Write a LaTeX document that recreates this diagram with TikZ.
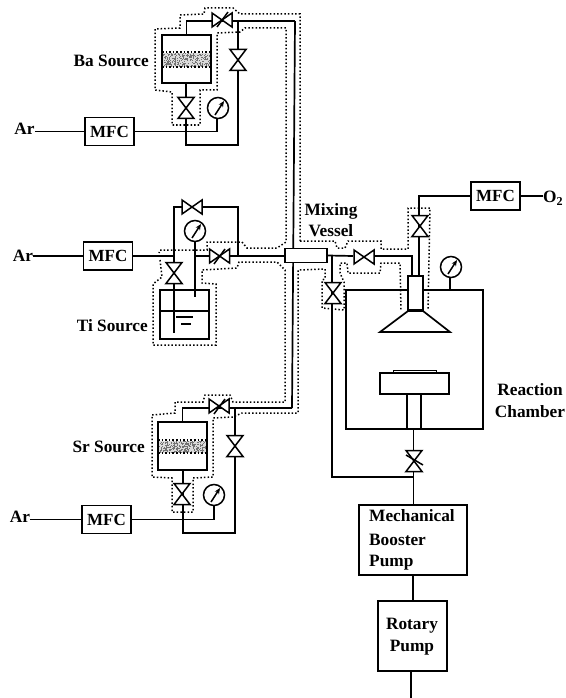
\documentclass[tikz,border=0pt]{standalone}
\usepackage{fontspec}
\setmainfont{Liberation Serif}
\usetikzlibrary{arrows.meta}
\tikzset{
  pipe/.style={line width=1.7pt,black,line join=miter},
  thin pipe/.style={line width=1.4pt,black},
  boxed/.style={draw=black,line width=1.7pt,inner sep=0pt,fill=white},
  mfcbox/.style={boxed,minimum width=49pt,minimum height=28pt,font=\fontsize{17}{19}\selectfont\bfseries},
  lbl/.style={font=\fontsize{17.3}{19}\selectfont\bfseries,inner sep=0pt},
  dots/.style={line width=1.5pt,dash pattern=on 1.5pt off 2.1pt,black},
  tap/.pic={\draw[line width=1.5pt,fill=white] (-10,-7)--(10,7)--(10,-7)--(-10,7)--cycle;},
  tapv/.pic={\draw[line width=1.5pt,fill=white] (-8,-10.5)--(8,10.5)--(-8,10.5)--(8,-10.5)--cycle;},
  gauge/.pic={\draw[line width=1.5pt,fill=white] (0,0) circle (10.5);
    \draw[line width=1.5pt,-{Stealth[length=6pt,width=5pt]}] (-3,7)--(6,-7);},
}
\newcommand{\speckle}[4]{\fill[black!14] (#1,#2) rectangle (#3,#4);
  \foreach \i in {1,...,300}{\pgfmathsetmacro\xa{#1+rnd*(#3-#1-1)}\pgfmathsetmacro\ya{#2+rnd*(#4-#2-1)}
    \fill[black!55] (\xa,\ya) rectangle (\xa+1,\ya+1);}}
\begin{document}
\begin{tikzpicture}[x=1pt,y=-1pt]
\useasboundingbox (0,0) rectangle (565,698);
\pgfmathsetseed{7}
% ---- Ba source
\speckle{162}{53}{211}{67}
\node[boxed,fill=none,minimum width=49pt,minimum height=48pt] (ba) at (186.5,59) {};
\draw[dots] (162,52)--(211,52) (162,67)--(211,67);
\draw[pipe] (ba.north) |- (295,21);
\draw[pipe] (186,83)|-(238,145)--(238,21);
\node[mfcbox] (mfcba) at (109.5,131.5) {MFC};
\node[lbl,anchor=base] (arba) at (24.5,135) {Ar};
\draw[thin pipe] (arba.east |- mfcba.west)--(mfcba.west);
\pic (gba) at (218,108) {gauge};
\draw[thin pipe] (mfcba.east)-|(217,118);
\pic at (186,108) {tapv};
\pic at (238,60) {tapv};
\pic at (222,20) {tap};
\draw[line width=1.5pt] (217,27)--(228,12);
\node[lbl,anchor=base east] at (149,66.5) {Ba Source};
\draw[dots] (300,241)--(300,14)--(240,14)--(233,8)--(205,8)--(204,14)--(180,15)--(180,28)--(155,29)--(155,90)--(172,92)--(172,125)--(200,125)--(200,90)--(217,90)--(217,33)--(240,32)--(245,28)--(286,28)--(286,242)--(277,248)--(247,248)--(242,242)--(207,242)--(207,250)--(160,250)--(159,253);
% ---- Ti source
\node[boxed,fill=none,minimum width=49pt,minimum height=49pt] (ti) at (184.5,314.5) {};
\draw[pipe] (ti.west |- 0,311)--(ti.east |- 0,311);
\draw[pipe] (182,207)-|(174,333);
\draw[pipe] (203,207)-|(238,256);
\draw[pipe] (195,240)--(195,297);
\draw[pipe] (195,256)--(285,256);
\draw[pipe] (176,317)--(193,317) (181,324)--(191,324);
\node[mfcbox] (mfcti) at (108,256) {MFC};
\node[lbl,anchor=base] (arti) at (23,261.5) {Ar};
\draw[thin pipe] (arti.east |- mfcti.west)--(mfcti.west);
\draw[thin pipe] (mfcti.east)--(174,256);
\pic at (192,207) {tap};
\pic at (195,231) {gauge};
\pic at (174,273) {tapv};
\pic at (219.5,256) {tap};
\draw[line width=1.5pt] (214,264)--(225,249);
\node[lbl,anchor=base east] at (148,331.5) {Ti Source};
\draw[dots] (160,260)--(162,277)--(153,284)--(153,345)--(216,345)--(216,284)--(202,283)--(202,270)--(237,268)--(239,262)--(277,262)--(285,270)--(285,402)--(233,402)--(230,395)--(205,395)--(203,402)--(175,402)--(175,413)--(152,415)--(152,477)--(172,478)--(172,512)--(193,512)--(193,478)--(213,477)--(213,418)--(233,417)--(242,413)--(298,413)--(298,270)--(325,269)--(325,279)--(322,280)--(322,308)--(344,310)--(344,282)--(340,273)--(340,263)--(347,263)--(348,273)--(380,273)--(381,263)--(400,263)--(401,310);
% ---- Sr source
\speckle{158}{441}{207}{453}
\node[boxed,fill=none,minimum width=49pt,minimum height=48pt] (sr) at (182.5,446) {};
\draw[dots] (158,440)--(207,440) (158,453)--(207,453);
\draw[pipe] (sr.north) |- (292,408);
\draw[pipe] (183,470)|-(235,533)--(235,408);
\node[mfcbox] (mfcsr) at (106.5,519.5) {MFC};
\node[lbl,anchor=base] (arsr) at (20,522) {Ar};
\draw[thin pipe] (arsr.east |- mfcsr.west)--(mfcsr.west);
\draw[thin pipe] (mfcsr.east)-|(214,505);
\pic at (214,495) {gauge};
\pic at (182,494) {tapv};
\pic at (235,446) {tapv};
\pic at (219,406) {tap};
\draw[line width=1.5pt] (214,414)--(225,399);
\node[lbl,anchor=base east] at (145,452.5) {Sr Source};
% ---- main vertical + vessel
\draw[pipe] (295,21)--(292,408);
\node[boxed,minimum width=42pt,minimum height=14pt] (mix) at (306,255.5) {};
\node[lbl,anchor=base] at (331,215) {Mixing};
\node[lbl,anchor=base] at (331,236) {Vessel};
\draw[dots] (300,241)--(335,241)--(337,248)--(345,248)--(348,241)--(381,241)--(381,249)--(408,249)--(408,208)--(430,208)--(428,310);
% ---- right side
\node[mfcbox] (mfco) at (495.5,196) {MFC};
\node[lbl,anchor=base west] (otwo) at (543,202.5) {O\textsubscript{2}};
\draw[thin pipe] (mfco.east)--(otwo.west |- mfco.east);
\draw[pipe] (mix.east)--(353,256);
\draw[pipe] (375,256)-|(412,276);
\draw[thin pipe] (mfco.west)-|(419,276);
\draw[pipe] (332,256)--(332,477)--(413,477);
\node[boxed,fill=none,minimum width=137pt,minimum height=139pt] (cham) at (414.5,359.5) {};
\draw[line width=1.7pt,fill=white] (408,276) rectangle (423,310);
\draw[line width=1.7pt,fill=white] (408,311)--(380,332)--(450,332)--(423,311)--cycle;
\draw[pipe] (450,278)--(450,290);
\pic at (451,267) {gauge};
\pic at (364,257) {tap};
\pic at (420,226) {tapv};
\pic at (333,293) {tapv};
\draw[line width=1pt,fill=white] (393,370) rectangle (436,373);
\draw[line width=1.7pt,fill=white] (380,373) rectangle (449,394);
\draw[line width=1.7pt,fill=white] (407,394) rectangle (421,429);
\node[boxed,minimum width=108pt,minimum height=70pt] (mech) at (413,540) {};
\node[boxed,minimum width=69pt,minimum height=70pt] (rot) at (412.5,636) {};
\coordinate (out) at (411,698);
\draw[pipe] (413.5,429)--(413.5,505);
\draw[pipe] (413,575)--(413,601);
\draw[pipe] (411,671)--(out);
\pic at (414,461) {tapv};
\draw[line width=1.5pt] (406,455)--(423,465);
\node[lbl,anchor=base west] at (369,521.5) {Mechanical};
\node[lbl,anchor=base west] at (369,545) {Booster};
\node[lbl,anchor=base west] at (369,566) {Pump};
\node[lbl,anchor=base] at (412,629) {Rotary};
\node[lbl,anchor=base] at (412,651) {Pump};
\node[lbl,anchor=base] at (530,395) {Reaction};
\node[lbl,anchor=base] at (530,417) {Chamber};
\end{tikzpicture}
\end{document}
